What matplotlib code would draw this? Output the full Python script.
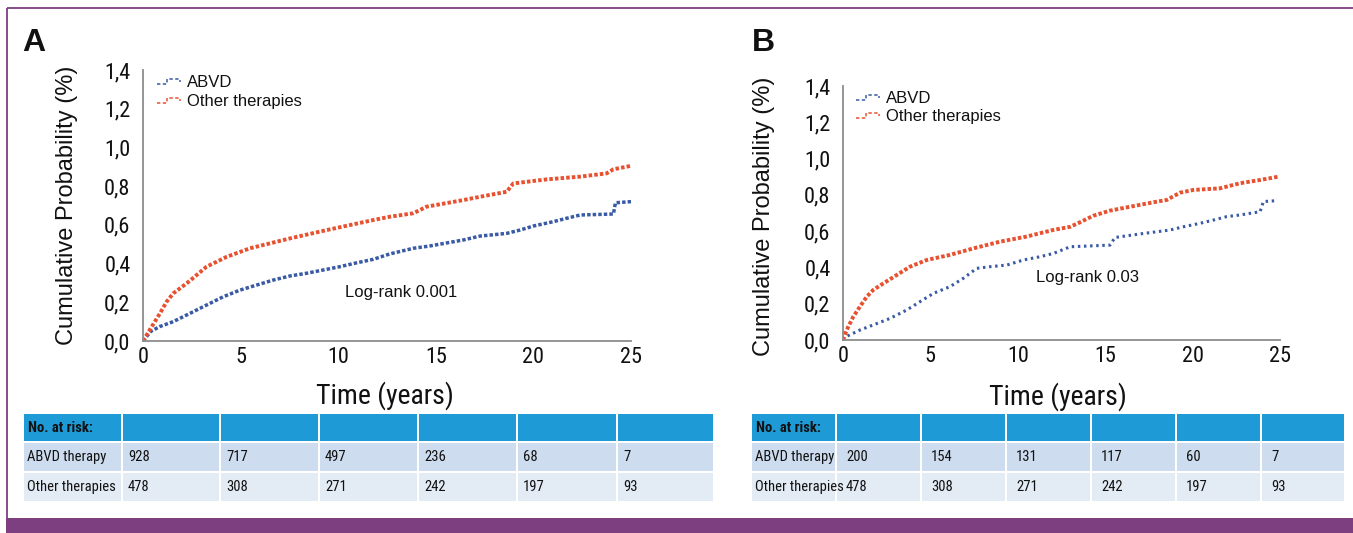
import matplotlib
matplotlib.use("Agg")
import matplotlib.pyplot as plt
from matplotlib.patches import Rectangle
from matplotlib.lines import Line2D
from matplotlib.legend_handler import HandlerBase
from matplotlib import font_manager as fm
import os

# ---------------- data ----------------
yticks = [0.0, 0.2, 0.4, 0.6, 0.8, 1.0, 1.2, 1.4]
ytick_labels = ["0,0", "0,2", "0,4", "0,6", "0,8", "1,0", "1,2", "1,4"]
xticks = [0, 5, 10, 15, 20, 25]
series_names = ["ABVD", "Other therapies"]

a_abvd_t = [0, 0.4, 0.87, 1.55, 2.41, 3.26, 4.12, 4.97, 5.82, 6.68, 7.53, 8.38, 9.24, 10.09,
            10.95, 11.8, 12.65, 13.85, 14.7, 16.41, 17.26, 18.63, 19.31, 20.0, 21.0, 21.7,
            22.4, 24.1, 24.2, 25.0]
a_abvd_v = [0, 0.05, 0.075, 0.10, 0.143, 0.186, 0.229, 0.263, 0.289, 0.315, 0.336, 0.35, 0.367,
            0.384, 0.404, 0.422, 0.45, 0.479, 0.491, 0.522, 0.542, 0.556, 0.573, 0.594, 0.616,
            0.634, 0.651, 0.656, 0.714, 0.72]
a_other_t = [0, 0.3, 0.87, 1.21, 1.55, 2.24, 3.26, 4.29, 5.48, 7.53, 9.41, 11.8, 12.65, 13.85,
             14.53, 16.41, 17.26, 18.63, 18.97, 20.68, 22.39, 23.75, 24.1, 25.0]
a_other_v = [0, 0.05, 0.143, 0.203, 0.246, 0.298, 0.384, 0.435, 0.479, 0.53, 0.573, 0.625,
             0.642, 0.66, 0.694, 0.728, 0.745, 0.771, 0.814, 0.835, 0.849, 0.866, 0.887, 0.905]

b_abvd_t = [0, 0.21, 0.97, 1.73, 2.69, 3.64, 4.4, 5.17, 6.12, 6.88, 7.65, 8.41, 9.37, 10.32,
            11.27, 12.03, 13.0, 15.27, 15.56, 17.18, 18.7, 19.47, 20.42, 21.19, 21.95, 22.71,
            23.86, 24.05, 24.81]
b_abvd_v = [0, 0.02, 0.055, 0.083, 0.119, 0.165, 0.211, 0.257, 0.294, 0.34, 0.395, 0.404,
            0.413, 0.441, 0.459, 0.477, 0.514, 0.523, 0.565, 0.587, 0.606, 0.624, 0.643, 0.661,
            0.68, 0.689, 0.707, 0.763, 0.768]
b_other_t = [0, 0.21, 0.59, 0.97, 1.36, 1.73, 2.31, 3.07, 3.83, 4.79, 6.12, 7.46, 8.98, 10.5,
             12.0, 13.0, 13.56, 14.32, 15.27, 16.23, 17.75, 18.52, 19.28, 20.04, 21.57, 22.71,
             23.86, 24.9]
b_other_v = [0, 0.055, 0.129, 0.184, 0.239, 0.276, 0.312, 0.358, 0.404, 0.441, 0.469, 0.505,
             0.542, 0.57, 0.606, 0.624, 0.649, 0.685, 0.713, 0.731, 0.759, 0.772, 0.812, 0.827,
             0.836, 0.864, 0.882, 0.9]

risk_header = "No. at risk:"
risk_rows = ["ABVD therapy", "Other therapies"]
a_risk_abvd = [928, 717, 497, 236, 68, 7]
a_risk_other = [478, 308, 271, 242, 197, 93]
b_risk_abvd = [200, 154, 131, 117, 60, 7]
b_risk_other = [478, 308, 271, 242, 197, 93]

pvals = ["Log-rank 0.001", "Log-rank 0.03"]
panel_letters = ["A", "B"]

# ---------------- fonts ----------------
def find_font(cands):
    files = [f.fname for f in fm.fontManager.ttflist]
    for c in cands:
        for f in files:
            if os.path.basename(f).lower() == c.lower():
                return f
    return None


narrow_reg = find_font(["LiberationSansNarrow-Regular.ttf", "RobotoCondensed-Regular.ttf",
                        "DejaVuSansCondensed.ttf"])
narrow_bold = find_font(["LiberationSansNarrow-Bold.ttf", "RobotoCondensed-Bold.ttf",
                         "DejaVuSansCondensed-Bold.ttf"])


def NFP(size, bold=False):
    f = narrow_bold if bold else narrow_reg
    if f is None:
        return fm.FontProperties(family="Liberation Sans", size=size * 0.88,
                                 weight="bold" if bold else "normal")
    return fm.FontProperties(fname=f, size=size)


def RFP(size, bold=False):
    return fm.FontProperties(family=["Liberation Sans", "DejaVu Sans"], size=size,
                             weight="bold" if bold else "normal")


# ---------------- style ----------------
W, H = 1353, 533
RED = "#E8512F"
BLUE = "#3A5AA6"
PURPLE = "#7D3F80"
HEAD = "#1E9BD7"
ROW1 = "#CDDCEE"
ROW2 = "#E3EBF5"
TXT = "#111111"

fig = plt.figure(figsize=(W / 100, H / 100), dpi=100)
fig.patch.set_facecolor("white")


def px_axes(l, t, r, b):
    return [l / W, (H - b) / H, (r - l) / W, (b - t) / H]


bg = fig.add_axes([0, 0, 1, 1], zorder=0)
bg.set_xlim(0, W)
bg.set_ylim(H, 0)
bg.axis("off")
bg.patch.set_alpha(0)

bg.plot([7, W], [8, 8], color=PURPLE, lw=1.3, solid_capstyle="butt")
bg.plot([7, 7], [8, 518], color=PURPLE, lw=1.3, solid_capstyle="butt")
bg.add_patch(Rectangle((6, 518), W - 6, 15, color=PURPLE, lw=0))


class StepHandler(HandlerBase):
    def create_artists(self, legend, orig_handle, xdescent, ydescent, width, height, fontsize, trans):
        xs = [0, 0.42 * width, 0.42 * width, 0.95 * width, 0.95 * width]
        ys = [0.25 * height, 0.25 * height, 0.7 * height, 0.7 * height, 0.45 * height]
        ln = Line2D([x - xdescent for x in xs], [y - ydescent for y in ys],
                    color=orig_handle.get_color(), lw=1.1, linestyle=(0, (2.2, 1.6)))
        ln.set_transform(trans)
        return [ln]


def panel(rect, t1, v1, t2, v2, pval, ptxt_xy, ylabel_xy, xlabel_xy, leg_xy, leg_sp,
          dash_blue, lw_blue):
    ax = fig.add_axes(rect, zorder=2)
    ax.patch.set_alpha(0)
    l1, = ax.plot(t1, v1, color=BLUE, lw=lw_blue, linestyle=(0, dash_blue), label=series_names[0],
                  dash_capstyle="butt")
    l2, = ax.plot(t2, v2, color=RED, lw=2.8, linestyle=(0, (0.9, 0.55)), label=series_names[1],
                  dash_capstyle="butt")
    ax.set_xlim(0, 25)
    ax.set_ylim(0, 1.4)
    ax.set_xticks(xticks)
    ax.set_xticklabels([str(x) for x in xticks])
    ax.set_yticks(yticks)
    ax.set_yticklabels(ytick_labels)
    for lab in ax.get_xticklabels() + ax.get_yticklabels():
        lab.set_fontproperties(NFP(16))
        lab.set_color("#111111")
    ax.tick_params(axis="both", length=0)
    ax.tick_params(axis="x", pad=4)
    ax.tick_params(axis="y", pad=9)
    for s in ["top", "right"]:
        ax.spines[s].set_visible(False)
    for s in ["left", "bottom"]:
        ax.spines[s].set_color("#8c8c8c")
        ax.spines[s].set_linewidth(1.3)
    ax.set_ylabel("Cumulative Probability (%)", fontproperties=RFP(17), color=TXT)
    ax.yaxis.set_label_coords(*ylabel_xy)
    ax.set_xlabel("Time (years)", fontproperties=NFP(20), color=TXT)
    ax.xaxis.set_label_coords(*xlabel_xy)
    ax.text(ptxt_xy[0], ptxt_xy[1], pval, ha="center", va="center", fontproperties=RFP(12),
            color=TXT)
    leg = ax.legend(handles=[l1, l2], loc="upper left", bbox_to_anchor=leg_xy, frameon=False,
                    prop=RFP(12), handler_map={Line2D: StepHandler()},
                    handlelength=1.45, handletextpad=0.35, labelspacing=leg_sp, borderpad=0,
                    borderaxespad=0)
    for t in leg.get_texts():
        t.set_color(TXT)
    return ax


axA = panel(px_axes(143, 70, 631, 341), a_abvd_t, a_abvd_v, a_other_t, a_other_v, pvals[0],
            (13.2, 0.248), (-0.133, 0.502), (0.496, -0.15), (0.028, 0.982), 0.25, (1.0, 0.6), 2.5)
axB = panel(px_axes(843, 86, 1280, 340), b_abvd_t, b_abvd_v, b_other_t, b_other_v, pvals[1],
            (13.96, 0.342), (-0.156, 0.488), (0.492, -0.165), (0.03, 0.98), 0.2, (0.8, 1.2), 2.2)

fig.text(22 / W, 1 - 43 / H, panel_letters[0], fontproperties=RFP(23, True),
         ha="left", va="center", color=TXT)
fig.text(752 / W, 1 - 43 / H, panel_letters[1], fontproperties=RFP(23, True),
         ha="left", va="center", color=TXT)


def risk_table(cols, top, rows_vals, pad_val):
    row_edges = [top, top + 29, top + 59, top + 89]
    colors = [HEAD, ROW1, ROW2]
    for r in range(3):
        for c in range(len(cols) - 1):
            bg.add_patch(Rectangle((cols[c] + 1, row_edges[r] + 1), cols[c + 1] - cols[c] - 2,
                                   row_edges[r + 1] - row_edges[r] - 2, color=colors[r], lw=0))
    bg.text(cols[0] + 5, (row_edges[0] + row_edges[1]) / 2, risk_header,
            fontproperties=NFP(10.5, True), ha="left", va="center", color=TXT)
    for r, (name, vals) in enumerate(zip(risk_rows, rows_vals)):
        yc = (row_edges[r + 1] + row_edges[r + 2]) / 2
        bg.text(cols[0] + 4, yc, name, fontproperties=NFP(10.5), ha="left", va="center",
                color=TXT)
        for c, v in enumerate(vals):
            bg.text(cols[c + 1] + pad_val, yc, str(v), fontproperties=NFP(10.5),
                    ha="left", va="center", color=TXT)


risk_table([23, 122, 220, 319, 418, 517, 617, 714], 413, [a_risk_abvd, a_risk_other], 6)
risk_table([751, 836, 921, 1006, 1091, 1176, 1261, 1345], 413, [b_risk_abvd, b_risk_other], 10)

fig.savefig("out.png", dpi=100)
